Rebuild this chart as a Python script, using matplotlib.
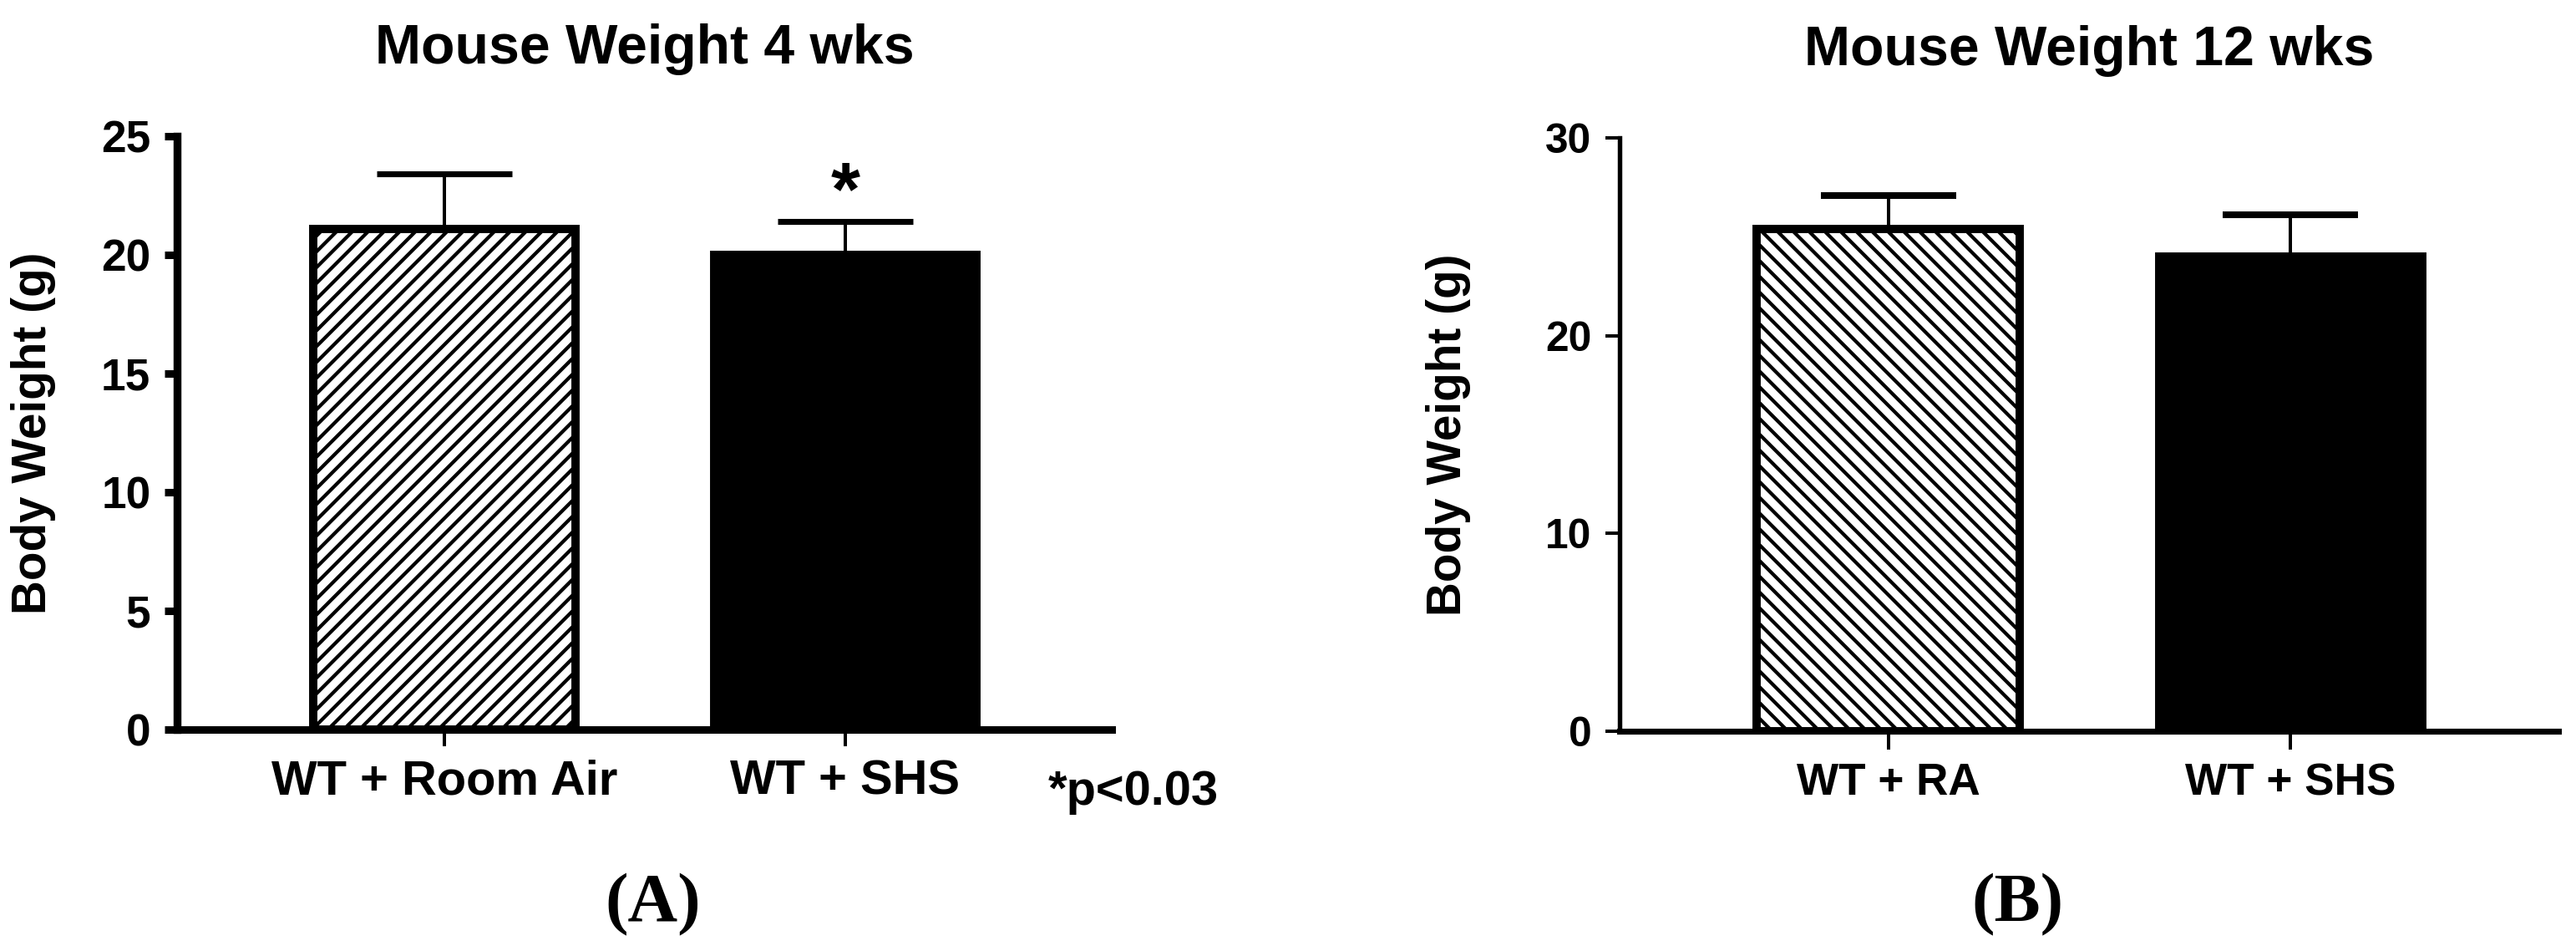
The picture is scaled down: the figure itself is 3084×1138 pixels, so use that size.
import numpy as np
import matplotlib
matplotlib.use("Agg")
import matplotlib.pyplot as plt

# data
groups_4 = ["WT + Room Air", "WT + SHS"]
mean_4 = [21.1, 20.0]
err_4 = [2.3, 1.4]

groups_12 = ["WT + RA", "WT + SHS"]
mean_12 = [25.4, 24.0]
err_12 = [1.7, 2.1]

plt.rcParams['font.family'] = ['Liberation Sans', 'DejaVu Sans']
plt.rcParams['font.weight'] = 'bold'
plt.rcParams['hatch.linewidth'] = 1.8
plt.rcParams['hatch.color'] = 'black'

DPI = 170
fig = plt.figure(figsize=(3084 / DPI, 1138 / DPI), dpi=DPI)

ax1 = fig.add_axes([212 / 3084, 1 - 873 / 1138, 1119 / 3084, 710 / 1138])
ax2 = fig.add_axes([1939 / 3084, 1 - 875 / 1138, 1124 / 3084, 710 / 1138])

x = np.arange(2)


def panel(ax, names, means, errs, hatch, ymax, yticks, title,
          spine_y, spine_x, ytick_w, ytick_len, xtick_len, xfs, yfs, capt, lab_x):
    ax.bar(x, means, width=0.655, color=['white', 'black'], edgecolor='black',
           linewidth=4.2, hatch=[hatch, None], zorder=2)
    ax.errorbar(x, means, yerr=[np.zeros(2), errs], fmt='none', ecolor='black',
                elinewidth=1.7, capsize=34.5, capthick=capt, zorder=1)
    ax.set_xlim(-0.668, 1.666)
    ax.set_ylim(0, ymax)
    ax.set_yticks(yticks)
    ax.set_xticks(x)
    ax.set_xticklabels(names)
    for s in ['top', 'right']:
        ax.spines[s].set_visible(False)
    ax.spines['left'].set_linewidth(spine_y)
    ax.spines['bottom'].set_linewidth(spine_x)
    ax.tick_params(axis='y', length=ytick_len, width=ytick_w, pad=7, labelsize=yfs)
    ax.tick_params(axis='x', length=xtick_len, width=1.7, pad=6.5, labelsize=xfs)
    ax.set_ylabel('Body Weight (g)', fontsize=24, fontweight='bold', va='center')
    ax.yaxis.set_label_coords(lab_x, 0.5)
    ax.set_title(title, fontsize=28, fontweight='bold', pad=37)


panel(ax1, groups_4, mean_4, err_4, '///', 25, [0, 5, 10, 15, 20, 25],
      'Mouse Weight 4 wks', 4.0, 3.8, 3.8, 6.4, 8.5, 24.5, 22.5, 3.0, -0.154)
panel(ax2, groups_12, mean_12, err_12, '\\\\\\', 30, [0, 10, 20, 30],
      'Mouse Weight 12 wks', 2.3, 3.0, 1.7, 7.2, 9.3, 22.5, 21, 3.4, -0.182)

# significance marker
ax1.text(1, 21.7, '*', ha='center', va='baseline', fontsize=38, fontweight='bold')
fig.text(1255 / 3084, 1 - 963 / 1138, '*p<0.03', ha='left', va='baseline',
         fontsize=24.5, fontweight='bold')

fig.text(782 / 3084, 1 - 1102 / 1138, '(A)', ha='center', va='baseline',
         fontsize=35, fontweight='bold', family='Liberation Serif')
fig.text(2415 / 3084, 1 - 1102 / 1138, '(B)', ha='center', va='baseline',
         fontsize=35, fontweight='bold', family='Liberation Serif')

fig.savefig('out.png', dpi=DPI, facecolor='white')
